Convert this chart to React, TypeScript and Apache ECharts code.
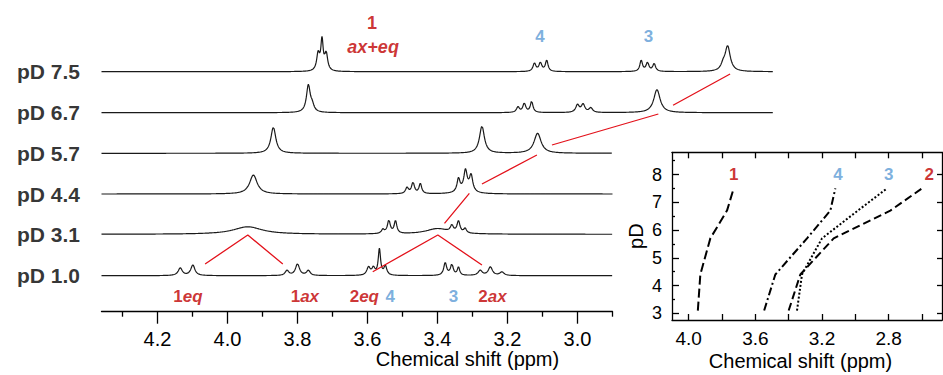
import React, { useEffect, useRef } from "react";
import * as echarts from "echarts";

const FONT = "'Liberation Sans', Arial, Helvetica, sans-serif";
const RED = "#c00000";
const LINE_RED = "#e3121b";
const BLUE = "#5b9bd5";

// ---------- left panel: stacked 1H NMR spectra ----------
const pDLabels = ["pD 7.5", "pD 6.7", "pD 5.7", "pD 4.4", "pD 3.1", "pD 1.0"];
const traceOffsets = [240, 199, 158.4, 117.7, 77.4, 36];
const traceEnds = [2.44, 2.44, 2.9, 2.9, 2.9, 2.9];
// peak lists: [ppm, height, half width (ppm)]
const peaksPD75 = [
  [3.741, 17, 0.005], [3.730, 30, 0.004], [3.718, 17, 0.005],
  [3.123, 8, 0.005], [3.106, 8.5, 0.005], [3.088, 11, 0.0045],
  [2.818, 11, 0.0045], [2.800, 8.5, 0.005], [2.781, 7.5, 0.005],
  [2.584, 5, 0.007], [2.571, 25, 0.009],
];
const peaksPD67 = [
  [3.769, 27, 0.0065], [3.758, 6, 0.006],
  [3.170, 5.5, 0.005], [3.152, 9, 0.005], [3.131, 11, 0.0045],
  [3.000, 7.5, 0.006], [2.984, 8, 0.006], [2.962, 4.5, 0.006],
  [2.773, 23, 0.011],
];
const peaksPD57 = [[3.869, 26, 0.0085], [3.273, 27, 0.0085], [3.114, 20, 0.012]];
const peaksPD44 = [
  [3.926, 19, 0.013],
  [3.487, 6, 0.005], [3.470, 11, 0.005], [3.449, 10, 0.0045],
  [3.340, 13, 0.005], [3.320, 19, 0.0055], [3.304, 16, 0.0055], [3.32, 4, 0.02],
];
const peaksPD31 = [
  [3.942, 7.5, 0.05],
  [3.556, 4, 0.005], [3.539, 13, 0.005], [3.520, 12.5, 0.0045],
  [3.40, 5.5, 0.04],
  [3.359, 6.5, 0.005], [3.340, 11.5, 0.005], [3.321, 4.5, 0.0045],
];
const peaksPD10 = [
  [4.135, 7.5, 0.007], [4.099, 10.5, 0.007],
  [3.830, 5, 0.006], [3.800, 11.5, 0.007], [3.769, 5, 0.006],
  [3.597, 8, 0.006], [3.583, 7, 0.005], [3.566, 26, 0.004], [3.549, 9, 0.005],
  [3.378, 12.5, 0.005], [3.359, 10.5, 0.005], [3.340, 8, 0.004],
  [3.278, 5, 0.007], [3.249, 8.5, 0.007], [3.216, 3.5, 0.007],
];
const tracePeaks = [peaksPD75, peaksPD67, peaksPD57, peaksPD44, peaksPD31, peaksPD10];

// red guide segments [ppm, y] (null separates segments)
const guidePpm = [2.564, 2.727, null, 2.769, 3.073, null, 3.116, 3.273, null, 3.309, 3.380, null, 4.064, 3.942, 3.842, null, 3.585, 3.399, 3.273];
const guideY = [237.7, 206.4, null, 197.7, 166.7, null, 156.7, 127.7, null, 118.4, 88.4, null, 47.7, 76.7, 47.7, null, 40, 76.7, 46.7];

const leftMajorTicks = [4.2, 4.0, 3.8, 3.6, 3.4, 3.2, 3.0];
const leftMinorTicks = [4.3, 4.1, 3.9, 3.7, 3.5, 3.3, 3.1, 2.9];

// ---------- right panel: pD vs chemical shift ----------
const pDValues = [3.1, 4.4, 5.7, 6.7, 7.5];
const shift1 = [3.945, 3.93, 3.87, 3.77, 3.73];
const shift4 = [3.547, 3.48, 3.29, 3.15, 3.12];
const shift3 = [3.35, 3.32, 3.20, 2.985, 2.81];
const shift2 = [3.40, 3.33, 3.13, 2.79, 2.60];
const rightXTicks = [4.0, 3.8, 3.6, 3.4, 3.2, 3.0, 2.8, 2.6];
const rightXLabels = [4.0, 3.6, 3.2, 2.8];
const rightYTicks = [3, 4, 5, 6, 7, 8];
const rightYMinor = [3.5, 4.5, 5.5, 6.5, 7.5, 8.5];

function buildTrace(peaks: number[][], offset: number, end: number) {
  const pts: number[][] = [];
  for (let i = 0; ; i++) {
    const x = 4.36 - i * 0.001;
    if (x < end - 1e-9) break;
    let y = 0;
    for (const [c, h, w] of peaks) {
      const d = (x - c) / w;
      y += h / (1 + d * d);
    }
    pts.push([+x.toFixed(4), offset + y]);
  }
  return pts;
}

export default function App() {
  const ref = useRef<HTMLDivElement>(null);
  useEffect(() => {
    if (!ref.current) return;
    const chart = echarts.init(ref.current, undefined, { renderer: "svg" });

    const traceSeries = tracePeaks.map((p, i) => ({
      type: "line",
      xAxisIndex: 0,
      yAxisIndex: 0,
      showSymbol: false,
      symbol: "none",
      silent: true,
      data: buildTrace(p, traceOffsets[i], traceEnds[i]),
      lineStyle: { color: "#1a1a1a", width: 1.2 },
      z: 3,
    }));

    const guideData = guidePpm.map((p, i) => (p === null ? [null, null] : [p, guideY[i]]));
    const guideSeries = {
      type: "line",
      xAxisIndex: 0,
      yAxisIndex: 0,
      symbol: "none",
      connectNulls: false,
      data: guideData,
      lineStyle: { color: LINE_RED, width: 1.3 },
      z: 4,
    };

    const pdLabelSeries = {
      type: "scatter",
      xAxisIndex: 0,
      yAxisIndex: 0,
      symbolSize: 1,
      itemStyle: { color: "transparent" },
      data: pDLabels.map((t, i) => ({ value: [4.36, traceOffsets[i]], name: t })),
      label: {
        show: true,
        position: "left",
        distance: 21,
        formatter: (p: any) => p.name,
        fontFamily: FONT,
        fontWeight: "bold",
        fontSize: 21,
        color: "#000",
      },
      z: 5,
    };

    const rich = {
      n: { fontFamily: FONT, fontWeight: "bold", fontSize: 17, color: RED },
      i: { fontFamily: FONT, fontWeight: "bold", fontStyle: "italic", fontSize: 17, color: RED },
      b: { fontFamily: FONT, fontWeight: "bold", fontSize: 17, color: BLUE },
      big: { fontFamily: FONT, fontWeight: "bold", fontSize: 18, color: RED },
      bigi: { fontFamily: FONT, fontWeight: "bold", fontStyle: "italic", fontSize: 18, color: RED },
    };
    const annotations = [
      { value: [3.587, 288.4], t: "{big|1}" },
      { value: [3.584, 265], t: "{bigi|ax+eq}" },
      { value: [3.107, 275], t: "{b|4}" },
      { value: [2.797, 275.7], t: "{b|3}" },
      { value: [2.429, 285.7], t: "{big|2}" },
      { value: [2.429, 263.4], t: "{bigi|ax+eq}" },
      { value: [4.113, 15.7], t: "{n|1}{i|eq}" },
      { value: [3.779, 15.7], t: "{n|1}{i|ax}" },
      { value: [3.609, 15.7], t: "{n|2}{i|eq}" },
      { value: [3.535, 15.7], t: "{b|4}" },
      { value: [3.354, 15.7], t: "{b|3}" },
      { value: [3.243, 15.7], t: "{n|2}{i|ax}" },
    ];
    const annotationSeries = {
      type: "scatter",
      xAxisIndex: 0,
      yAxisIndex: 0,
      symbolSize: 1,
      itemStyle: { color: "transparent" },
      data: annotations.map((a) => ({ value: a.value, name: a.t })),
      label: {
        show: true,
        position: "inside",
        formatter: (p: any) => p.name,
        rich,
      },
      z: 5,
    };

    const rightLine = (data: number[], type: any) => ({
      type: "line",
      xAxisIndex: 3,
      yAxisIndex: 2,
      symbol: "none",
      data: data.map((v, i) => [v, pDValues[i]]),
      lineStyle: { color: "#000", width: 2, type },
      z: 3,
    });
    const rightLabelSeries = {
      type: "scatter",
      xAxisIndex: 3,
      yAxisIndex: 2,
      symbolSize: 1,
      itemStyle: { color: "transparent" },
      data: [
        { value: [3.73, 8], name: "{r|1}" },
        { value: [3.104, 8], name: "{bl|4}" },
        { value: [2.80, 8], name: "{bl|3}" },
        { value: [2.556, 8], name: "{r|2}" },
      ],
      label: {
        show: true,
        position: "inside",
        formatter: (p: any) => p.name,
        rich: {
          r: { fontFamily: FONT, fontWeight: "bold", fontSize: 17, color: RED },
          bl: { fontFamily: FONT, fontWeight: "bold", fontSize: 17, color: BLUE },
        },
      },
    };

    const blackLine = { color: "#000", width: 1.3 };

    chart.setOption({
      animation: false,
      backgroundColor: "#fff",
      textStyle: { fontFamily: FONT },
      grid: [
        { left: 101.5, width: 672, top: 11.7, height: 300, containLabel: false },
        { left: 101.5, width: 511, top: 11.7, height: 300, containLabel: false },
        { left: 672, width: 270, top: 152.3, height: 167.7, containLabel: false },
      ],
      xAxis: [
        { type: "value", gridIndex: 0, min: 2.44, max: 4.36, inverse: true, show: false },
        {
          type: "value", gridIndex: 1, min: 2.9, max: 4.36, inverse: true, position: "bottom",
          axisLine: { show: true, onZero: false, lineStyle: blackLine },
          axisTick: { show: true, length: 12, customValues: leftMajorTicks, lineStyle: blackLine },
          axisLabel: {
            show: true, customValues: leftMajorTicks, formatter: (v: number) => v.toFixed(1),
            fontFamily: FONT, fontSize: 20, color: "#000", margin: 17,
          },
          splitLine: { show: false },
        },
        {
          type: "value", gridIndex: 1, min: 2.9, max: 4.36, inverse: true, position: "bottom",
          axisLine: { show: false, onZero: false },
          axisTick: { show: true, length: 5, customValues: leftMinorTicks, lineStyle: blackLine },
          axisLabel: { show: false },
          splitLine: { show: false },
        },
        {
          type: "value", gridIndex: 2, min: 2.48, max: 4.1, inverse: true, position: "bottom",
          axisLine: { show: true, onZero: false, lineStyle: blackLine },
          axisTick: { show: true, inside: true, length: 6, customValues: rightXTicks, lineStyle: blackLine },
          axisLabel: {
            show: true, customValues: rightXLabels, formatter: (v: number) => v.toFixed(1),
            fontFamily: FONT, fontSize: 19, color: "#000", margin: 9,
          },
          splitLine: { show: false },
        },
        {
          type: "value", gridIndex: 2, min: 2.48, max: 4.1, inverse: true, position: "top",
          axisLine: { show: true, onZero: false, lineStyle: blackLine },
          axisTick: { show: true, inside: true, length: 6, customValues: rightXTicks, lineStyle: blackLine },
          axisLabel: { show: false },
          splitLine: { show: false },
        },
      ],
      yAxis: [
        { type: "value", gridIndex: 0, min: 0, max: 300, show: false },
        { type: "value", gridIndex: 1, min: 0, max: 300, show: false },
        {
          type: "value", gridIndex: 2, min: 2.76, max: 8.8, position: "left",
          axisLine: { show: true, onZero: false, lineStyle: blackLine },
          axisTick: { show: true, inside: true, length: 7, customValues: rightYTicks, lineStyle: blackLine },
          axisLabel: {
            show: true, customValues: rightYTicks, fontFamily: FONT, fontSize: 18, color: "#000", margin: 10,
          },
          splitLine: { show: false },
          name: "pD", nameLocation: "middle", nameRotate: 90, nameGap: 26,
          nameTextStyle: { fontFamily: FONT, fontSize: 20, color: "#000" },
        },
        {
          type: "value", gridIndex: 2, min: 2.76, max: 8.8, position: "left",
          axisLine: { show: false, onZero: false },
          axisTick: { show: true, inside: true, length: 3, customValues: rightYMinor, lineStyle: blackLine },
          axisLabel: { show: false },
          splitLine: { show: false },
        },
        {
          type: "value", gridIndex: 2, min: 2.76, max: 8.8, position: "right",
          axisLine: { show: true, onZero: false, lineStyle: blackLine },
          axisTick: { show: true, inside: true, length: 5, customValues: rightYTicks, lineStyle: blackLine },
          axisLabel: { show: false },
          splitLine: { show: false },
        },
      ],
      graphic: [
        {
          type: "text", x: 467.5, y: 359,
          style: { text: "Chemical shift (ppm)", font: `20px ${FONT}`, fill: "#000", align: "center", verticalAlign: "middle" },
        },
        {
          type: "text", x: 800.5, y: 361,
          style: { text: "Chemical shift (ppm)", font: `20px ${FONT}`, fill: "#000", align: "center", verticalAlign: "middle" },
        },
      ],
      series: [
        ...traceSeries,
        guideSeries,
        pdLabelSeries,
        annotationSeries,
        rightLine(shift1, [9, 4]),
        rightLine(shift4, [8, 3, 2, 3]),
        rightLine(shift3, [2, 2]),
        rightLine(shift2, [8, 4]),
        rightLabelSeries,
      ],
    });
    return () => chart.dispose();
  }, []);

  return (
    <div
      ref={ref}
      style={{ position: "absolute", left: 0, top: 0, width: 943, height: 375, background: "#fff" }}
    />
  );
}
